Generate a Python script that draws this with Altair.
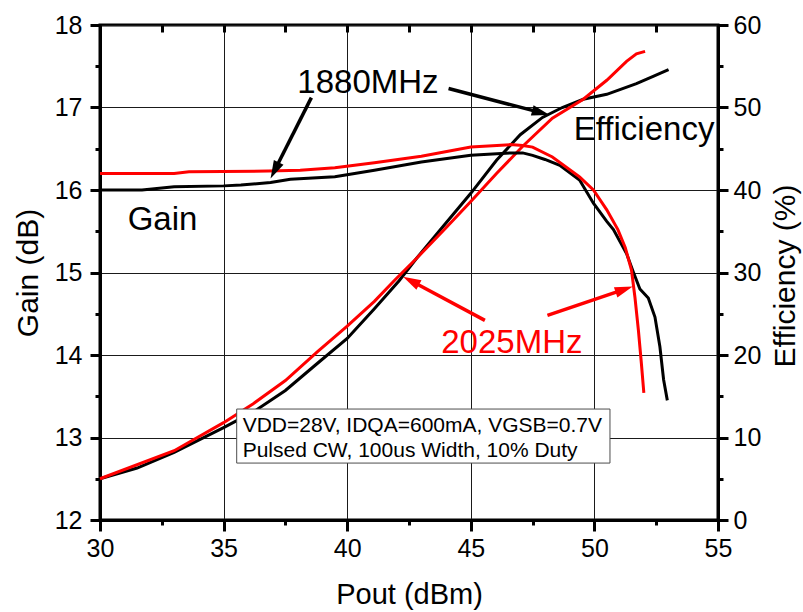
import math
import altair as alt
import pandas as pd

# ---------------- data ----------------
gain_1880_x = [30.0, 31.7, 33.0, 35.0, 35.7, 36.9, 37.7, 39.5, 41.1, 43.0, 45.0, 46.6, 47.1, 47.5,
               48.0, 48.6, 49.4, 49.96, 50.5, 50.77, 51.3, 51.57, 51.84, 52.18, 52.45, 52.65, 52.8, 52.95]
gain_1880_y = [16.0, 16.0, 16.04, 16.05, 16.06, 16.09, 16.13, 16.16, 16.24, 16.34, 16.42, 16.45, 16.45, 16.42,
               16.37, 16.30, 16.12, 15.84, 15.62, 15.52, 15.23, 15.01, 14.8, 14.69, 14.46, 14.1, 13.7, 13.45]

gain_2025_x = [30.0, 33.0, 33.6, 36.8, 38.1, 39.5, 41.1, 43.0, 45.0, 46.6, 47.1, 47.5, 48.3, 49.4,
               49.96, 50.5, 50.95, 51.25, 51.5, 51.64, 51.78, 51.9, 52.0]
gain_2025_y = [16.2, 16.2, 16.22, 16.23, 16.24, 16.27, 16.33, 16.41, 16.52, 16.55, 16.54, 16.52, 16.4, 16.16,
               16.0, 15.76, 15.52, 15.3, 15.03, 14.7, 14.3, 13.9, 13.54]

eff_1880_x = [30.0, 31.5, 33.0, 35.0, 36.2, 37.5, 38.8, 40.0, 41.1, 42.1, 42.8, 43.8, 45.0, 46.04,
              47.0, 47.9, 48.7, 49.55, 50.5, 51.7, 52.4, 53.0]
eff_1880_y = [5.0, 6.3, 8.2, 11.2, 13.1, 15.7, 19.0, 22.0, 25.6, 29.0, 31.7, 35.3, 39.6, 43.6,
              46.7, 48.8, 50.0, 51.0, 51.6, 52.9, 53.8, 54.6]

eff_2025_x = [30.0, 33.0, 35.0, 36.2, 37.5, 38.8, 40.0, 41.1, 41.9, 42.8, 43.96, 45.0, 46.04, 47.1,
              48.3, 49.55, 50.5, 51.3, 51.7, 52.05]
eff_2025_y = [5.0, 8.4, 11.8, 14.1, 16.9, 20.4, 23.5, 26.5, 29.0, 31.7, 35.3, 38.6, 42.0, 45.3,
              48.7, 51.0, 53.3, 55.6, 56.5, 56.8]

series_names = ["1880MHz", "2025MHz", "note"]
series_colors = ["#000000", "#ff0000", "#000000"]

label_text = ["1880MHz", "Efficiency", "Gain", "2025MHz"]
label_series = ["1880MHz", "note", "note", "2025MHz"]
label_x = [40.84, 52.01, 32.53, 46.66]
label_g = [17.18, 16.606, 15.515, 14.02]

arrow_series = ["1880MHz", "1880MHz", "2025MHz", "2025MHz"]
arrow_x0 = [38.55, 44.1, 45.57, 48.1]
arrow_g0 = [17.12, 17.23, 14.42, 14.48]
arrow_x1 = [36.9, 48.19, 42.26, 51.55]
arrow_g1 = [16.14, 16.91, 14.95, 14.83]

box_x = [35.53, 50.63]
box_g = [12.69, 13.345]
box_lines = ["VDD=28V, IDQA=600mA, VGSB=0.7V", "Pulsed CW, 100us Width, 10% Duty"]
box_line_x = [35.77, 35.77]
box_line_g = [13.07, 12.767]

x_ticks = [30, 32.5, 35, 37.5, 40, 42.5, 45, 47.5, 50, 52.5, 55]
g_ticks = [12, 12.5, 13, 13.5, 14, 14.5, 15, 15.5, 16, 16.5, 17, 17.5, 18]
e_ticks = [0, 5, 10, 15, 20, 25, 30, 35, 40, 45, 50, 55, 60]

X_DOM = [30, 55]
G_DOM = [12, 18]
E_DOM = [0, 60]

# ---------------- layout / style ----------------
W, H = 618, 495
PX_X = W / (X_DOM[1] - X_DOM[0])
PX_G = H / (G_DOM[1] - G_DOM[0])
FONT = "Liberation Sans, Arial, sans-serif"
ARROW_PATH = "M0,0L-0.6,2L0.6,2Z"
HEAD_SIZE = 324
HEAD_LEN_PX = 12
MAJOR_DASH = [40, 0]     # solid major tick
MINOR_DASH = [5, 40]     # only first 5 px (next to the axis) drawn

# ---------------- tables ----------------
rows = []
for name, xs_, ys_ in [("1880MHz", gain_1880_x, gain_1880_y), ("2025MHz", gain_2025_x, gain_2025_y)]:
    for i, (a, b) in enumerate(zip(xs_, ys_)):
        rows.append({"x": a, "g": b, "series": name, "i": i})
gain_df = pd.DataFrame(rows)

rows = []
for name, xs_, ys_ in [("1880MHz", eff_1880_x, eff_1880_y), ("2025MHz", eff_2025_x, eff_2025_y)]:
    for i, (a, b) in enumerate(zip(xs_, ys_)):
        rows.append({"x": a, "e": b, "series": name, "i": i})
eff_df = pd.DataFrame(rows)

rows = []
for s, x0, g0, x1, g1 in zip(arrow_series, arrow_x0, arrow_g0, arrow_x1, arrow_g1):
    dx = (x1 - x0) * PX_X
    dy = -(g1 - g0) * PX_G  # screen y (down positive)
    L = math.hypot(dx, dy)
    ang = math.degrees(math.atan2(dx, -dy)) % 360
    xs_end = x1 - (dx / L) * HEAD_LEN_PX / PX_X
    gs_end = g1 + (dy / L) * HEAD_LEN_PX / PX_G
    rows.append({"series": s, "x0": x0, "g0": g0, "x1": x1, "g1": g1,
                 "xe": xs_end, "ge": gs_end, "ang": ang})
arrow_df = pd.DataFrame(rows)

label_df = pd.DataFrame({"t": label_text, "series": label_series, "lx": label_x, "lg": label_g})
box_df = pd.DataFrame({"bx0": [box_x[0]], "bx1": [box_x[1]], "bg0": [box_g[0]], "bg1": [box_g[1]]})
box_text_df = pd.DataFrame({"t": box_lines, "tx": box_line_x, "tg": box_line_g})


def cond(test, a, b):
    return {"condition": {"test": test, "value": a}, "value": b}


xs = alt.Scale(domain=X_DOM, nice=False, zero=False)
gs = alt.Scale(domain=G_DOM, nice=False, zero=False)
es = alt.Scale(domain=E_DOM, nice=False, zero=False)

color = alt.Color("series:N", scale=alt.Scale(domain=series_names, range=series_colors), legend=None)

common_lbl = dict(labelFont=FONT, labelFontSize=25, labelColor="black",
                  titleFont=FONT, titleFontWeight="normal", titleColor="black",
                  domainColor="black", domainWidth=3, tickColor="black", tickWidth=3,
                  labelOverlap=False, labelFlush=False)

X_MAJ = "datum.value % 5 == 0"
G_MAJ = "datum.value % 1 == 0"
E_MAJ = "datum.value % 10 == 0"

x_axis_bottom = alt.Axis(
    orient="bottom", values=x_ticks, title="Pout (dBm)", grid=True,
    gridColor="#1a1a1a", gridWidth=1, gridOpacity=cond(X_MAJ, 1, 0),
    tickSize=11, tickDash=cond(X_MAJ, MAJOR_DASH, MINOR_DASH),
    labelExpr="datum.value % 5 == 0 ? format(datum.value, 'd') : ''", labelPadding=5,
    titleFontSize=29, titleX=W / 2, titleY=83, titleBaseline="alphabetic", titleAlign="center",
    **common_lbl)

x_axis_top = alt.Axis(
    orient="top", values=x_ticks, title="", domain=False, labels=False, grid=False,
    tickSize=7, tickWidth=3, tickColor="black", offset=-7)

g_axis = alt.Axis(
    orient="left", values=g_ticks, title="Gain (dB)", grid=True,
    gridColor="#1a1a1a", gridWidth=1, gridOpacity=cond(G_MAJ, 1, 0),
    tickSize=10, tickDash=cond(G_MAJ, MAJOR_DASH, MINOR_DASH),
    labelExpr="datum.value % 1 == 0 ? format(datum.value, 'd') : ''", labelPadding=8,
    titleFontSize=30, titleAngle=270, titleX=-72, titleY=H / 2, titleBaseline="middle", titleAlign="center",
    **common_lbl)

e_axis = alt.Axis(
    orient="right", values=e_ticks, title="Efficiency (%)", grid=False,
    tickSize=10, tickDash=cond(E_MAJ, MAJOR_DASH, MINOR_DASH),
    labelExpr="datum.value % 10 == 0 ? format(datum.value, 'd') : ''", labelPadding=5,
    titleFontSize=30, titleAngle=270, titleX=67, titleY=H / 2 + 3, titleBaseline="middle", titleAlign="center",
    **common_lbl)

# ---------------- efficiency layer (right axis) ----------------
eff_lines = alt.Chart(eff_df).mark_line(strokeWidth=3).encode(
    x=alt.X("x:Q", scale=xs, axis=x_axis_top),
    y=alt.Y("e:Q", scale=es, axis=e_axis),
    color=color,
    order="i:Q",
)
eff_layer = alt.layer(eff_lines)

# ---------------- gain layer (left axis) + annotations ----------------
gain_lines = alt.Chart(gain_df).mark_line(strokeWidth=3).encode(
    x=alt.X("x:Q", scale=xs, axis=x_axis_bottom),
    y=alt.Y("g:Q", scale=gs, axis=g_axis),
    color=color,
    order="i:Q",
)

arrow_shafts = alt.Chart(arrow_df).mark_rule(strokeWidth=3.5).encode(
    x=alt.X("x0:Q", scale=xs, axis=x_axis_bottom),
    y=alt.Y("g0:Q", scale=gs, axis=g_axis),
    x2="xe:Q",
    y2="ge:Q",
    color=color,
)

arrow_heads = alt.Chart(arrow_df).mark_point(
    shape=ARROW_PATH, filled=True, size=HEAD_SIZE, opacity=1, strokeWidth=0
).encode(
    x=alt.X("x1:Q", scale=xs, axis=x_axis_bottom),
    y=alt.Y("g1:Q", scale=gs, axis=g_axis),
    angle=alt.Angle("ang:Q", scale=None),
    color=color,
)

labels = alt.Chart(label_df).mark_text(
    font=FONT, fontSize=33, align="center", baseline="alphabetic"
).encode(
    x=alt.X("lx:Q", scale=xs, axis=x_axis_bottom),
    y=alt.Y("lg:Q", scale=gs, axis=g_axis),
    text="t:N",
    color=color,
)

box = alt.Chart(box_df).mark_rect(fill="white", stroke="#4d4d4d", strokeWidth=1).encode(
    x=alt.X("bx0:Q", scale=xs, axis=x_axis_bottom),
    x2="bx1:Q",
    y=alt.Y("bg0:Q", scale=gs, axis=g_axis),
    y2="bg1:Q",
)

box_text = alt.Chart(box_text_df).mark_text(
    font=FONT, fontSize=21, align="left", baseline="alphabetic", color="black"
).encode(
    x=alt.X("tx:Q", scale=xs, axis=x_axis_bottom),
    y=alt.Y("tg:Q", scale=gs, axis=g_axis),
    text="t:N",
)

gain_layer = alt.layer(gain_lines, arrow_shafts, arrow_heads, labels, box, box_text)

chart = (
    alt.layer(eff_layer, gain_layer)
    .resolve_scale(y="independent")
    .resolve_axis(x="independent")
    .properties(
        width=W,
        height=H,
        autosize=alt.AutoSizeParams(type="none"),
        padding={"left": 100, "top": 25, "right": 85, "bottom": 92},
        background="white",
    )
    .configure_view(stroke="black", strokeWidth=3)
)

chart.save("out.html", embed_options={"renderer": "svg", "actions": False})
